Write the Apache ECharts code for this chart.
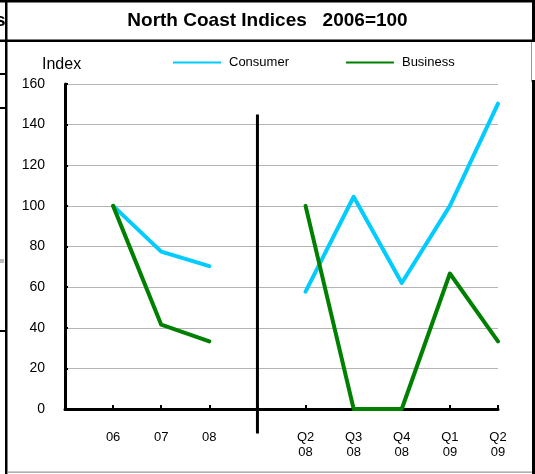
<!DOCTYPE html>
<html>
<head>
<meta charset="utf-8">
<script src="https://cdn.jsdelivr.net/npm/echarts@6/dist/echarts.min.js"></script>
<style>
html,body{margin:0;padding:0;background:#fff;}
#c{width:535px;height:474px;}
</style>
</head>
<body>
<div id="c"></div>
<script>
var categories = [' ', '06', '07', '08', '  ', 'Q2\n08', 'Q3\n08', 'Q4\n08', 'Q1\n09', 'Q2\n09'];
var consumer = [null, 100, 77.5, 70.3, null, 57.8, 104.5, 62, 100, 150.3];
var business = [null, 100, 41.5, 33.3, null, 100, 0, 0, 66.7, 33.3];
var yTicks = [0, 20, 40, 60, 80, 100, 120, 140, 160];
var separatorIndex = 4;

var FONT = '"Liberation Sans", Arial, sans-serif';
var chart = echarts.init(document.getElementById('c'), null, {renderer: 'canvas'});

var option = {
  animation: false,
  backgroundColor: '#fff',
  textStyle: {fontFamily: FONT},
  grid: {left: 65, right: 37, top: 84, bottom: 65, containLabel: false},
  legend: {
    left: 168, top: 51,
    icon: 'rect', itemWidth: 48, itemHeight: 2, itemGap: 57,
    textStyle: {fontSize: 13, color: '#000', fontFamily: FONT, padding: [0, 0, 0, 3]},
    data: ['Consumer', 'Business']
  },
  xAxis: {
    type: 'category', boundaryGap: false, data: categories,
    axisLine: {lineStyle: {color: '#000', width: 3}},
    axisTick: {show: true, inside: true, length: 4, interval: 0, lineStyle: {color: '#000', width: 2}},
    axisLabel: {interval: 0, color: '#000', fontSize: 13, lineHeight: 15, margin: 21, verticalAlign: 'top', fontFamily: FONT},
    splitLine: {show: false}
  },
  yAxis: {
    type: 'value', min: yTicks[0], max: yTicks[yTicks.length - 1], interval: 20,
    axisLine: {show: true, lineStyle: {color: '#000', width: 3}},
    axisTick: {show: true, inside: true, length: 3, lineStyle: {color: '#000', width: 2}},
    axisLabel: {color: '#000', fontSize: 14, margin: 20, fontFamily: FONT},
    splitLine: {show: true, lineStyle: {color: '#b4b4b4', width: 1}}
  },
  series: [
    {name: 'Consumer', type: 'line', data: consumer, connectNulls: false, symbol: 'none',
     lineStyle: {color: '#00CCFF', width: 4, cap: 'round', join: 'round'}, itemStyle: {color: '#00CCFF'}, z: 3},
    {name: 'Business', type: 'line', data: business, connectNulls: false, symbol: 'none',
     lineStyle: {color: '#008000', width: 4, cap: 'round', join: 'round'}, itemStyle: {color: '#008000'}, z: 4}
  ]
};
chart.setOption(option);

var sepTop = chart.convertToPixel({gridIndex: 0}, [separatorIndex, 145]);
var sepBot = chart.convertToPixel({gridIndex: 0}, [separatorIndex, -12]);

chart.setOption({
  graphic: [
    // frame
    {type: 'rect', shape: {x: 0, y: 0, width: 535, height: 2.5}, style: {fill: '#000'}, silent: true},
    {type: 'rect', shape: {x: 0, y: 39.5, width: 535, height: 2.5}, style: {fill: '#000'}, silent: true},
    {type: 'rect', shape: {x: 5, y: 0, width: 2.5, height: 474}, style: {fill: '#000'}, silent: true},
    {type: 'rect', shape: {x: 532, y: 0, width: 3, height: 42}, style: {fill: '#000'}, silent: true},
    {type: 'rect', shape: {x: 531, y: 42, width: 1, height: 40}, style: {fill: '#999'}, silent: true},
    {type: 'rect', shape: {x: 532, y: 80, width: 3, height: 394}, style: {fill: '#000'}, silent: true},
    {type: 'rect', shape: {x: 7, y: 471.5, width: 525, height: 1.2}, style: {fill: '#999'}, silent: true},
    // neighbour cell fragments on the far left
    {type: 'rect', shape: {x: 0, y: 73, width: 6, height: 2}, style: {fill: '#000'}, silent: true},
    {type: 'rect', shape: {x: 0, y: 107, width: 6, height: 2}, style: {fill: '#000'}, silent: true},
    {type: 'rect', shape: {x: 0, y: 259, width: 4, height: 4}, style: {fill: '#bbb'}, silent: true},
    {type: 'rect', shape: {x: 0, y: 330, width: 6, height: 2}, style: {fill: '#000'}, silent: true},
    {type: 'text', left: -5, top: 11, style: {text: 's', font: 'bold 19px ' + FONT, fill: '#000'}, silent: true},
    // title
    {type: 'text', left: 'center', top: 11, style: {text: 'North Coast Indices   2006=100', font: 'bold 19px ' + FONT, fill: '#000', textAlign: 'center'}, silent: true},
    // y axis name
    {type: 'text', left: 42, top: 57, style: {text: 'Index', font: '16px ' + FONT, fill: '#000'}, silent: true},
    // separator
    {type: 'line', shape: {x1: sepTop[0], y1: sepTop[1], x2: sepBot[0], y2: sepBot[1]}, style: {stroke: '#000', lineWidth: 3}, z: 10, silent: true}
  ]
});
</script>
</body>
</html>
